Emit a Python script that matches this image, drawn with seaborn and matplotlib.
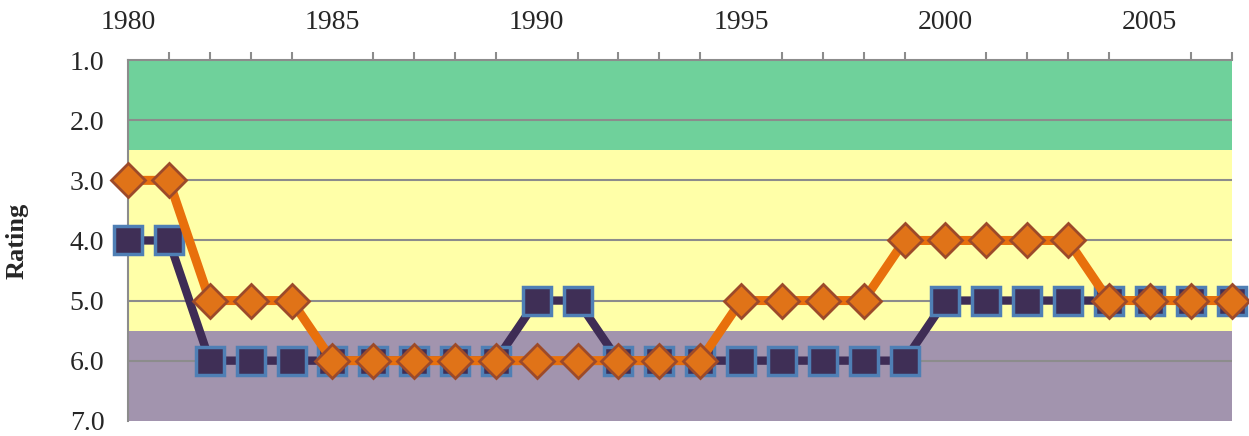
import numpy as np
import pandas as pd
import matplotlib
matplotlib.use("Agg")
import matplotlib.pyplot as plt
import seaborn as sns

# datos
years = list(range(1980, 2008))
rating_a = [4, 4, 6, 6, 6, 6, 6, 6, 6, 6, 5, 5, 6, 6, 6, 6, 6, 6, 6, 6,
            5, 5, 5, 5, 5, 5, 5, 5]
rating_b = [3, 3, 5, 5, 5, 6, 6, 6, 6, 6, 6, 6, 6, 6, 6, 5, 5, 5, 5, 4,
            4, 4, 4, 4, 5, 5, 5, 5]
band_edges = [1.0, 2.5, 5.5, 7.0]
band_colors = ["#6fd19b", "#ffffa8", "#a294ae"]
year_ticks = [1980, 1985, 1990, 1995, 2000, 2005]

df = pd.DataFrame({"year": years, "a": rating_a, "b": rating_b})

sns.set_style("white")
plt.rcParams["font.family"] = ["Liberation Serif", "DejaVu Serif"]

fig = plt.figure(figsize=(12.49, 4.36), dpi=100)
ax = fig.add_axes([0.1025, 0.035, 0.8835, 0.827])

# bandas de fondo
for lo, hi, c in zip(band_edges[:-1], band_edges[1:], band_colors):
    ax.axhspan(lo, hi, color=c, zorder=0, lw=0)

for v in range(2, 7):
    ax.axhline(v, color="#8c8c8c", lw=1.5, zorder=1)

sns.lineplot(data=df, x="year", y="a", ax=ax, color="#3e2c55", lw=6,
             marker="s", markersize=20, markerfacecolor="#3f2f56",
             markeredgecolor="#4f7fb5", markeredgewidth=2.5, zorder=3,
             clip_on=False)
sns.lineplot(data=df, x="year", y="b", ax=ax, color="#e8700c", lw=6.5,
             marker="D", markersize=17, markerfacecolor="#e07318",
             markeredgecolor="#9c4a2a", markeredgewidth=2, zorder=4,
             clip_on=False)

ax.set_xlim(1980, 2007)
ax.set_ylim(7.0, 1.0)
ax.xaxis.tick_top()
ax.set_xticks(year_ticks)
ax.set_xticks(years, minor=True)
ax.set_yticks(np.arange(1.0, 7.01, 1.0))
ax.set_yticks(np.arange(1.5, 7.0, 1.0), minor=True)
ax.set_yticklabels([f"{v:.1f}" for v in np.arange(1.0, 7.01, 1.0)])
ax.tick_params(axis="both", which="both", direction="out", color="#8c8c8c",
               width=1.5, labelsize=20)
ax.tick_params(axis="x", which="major", length=0, pad=18)
ax.tick_params(axis="x", which="minor", length=6)
ax.tick_params(axis="y", which="major", length=7, pad=10)
ax.tick_params(axis="y", which="minor", length=5)

for s in ["bottom", "right"]:
    ax.spines[s].set_visible(False)
for s in ["top", "left"]:
    ax.spines[s].set_color("#8c8c8c")
    ax.spines[s].set_linewidth(1.5)

ax.set_xlabel("")
ax.set_ylabel("Rating", fontsize=19, fontweight="bold", labelpad=30)

fig.savefig("out.png", dpi=100)
